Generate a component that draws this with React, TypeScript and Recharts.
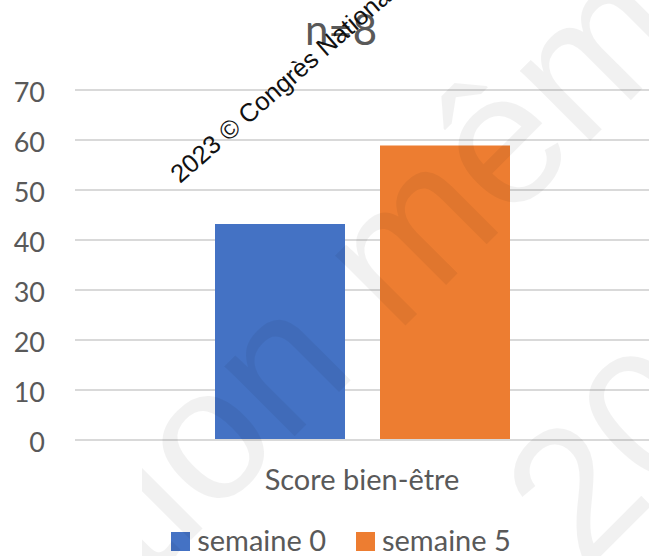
import React from 'react';
import { BarChart, Bar, XAxis, YAxis, CartesianGrid, Legend } from 'recharts';

const categories = ['Score bien-être'];
const semaine0 = [43.2];
const semaine5 = [58.9];
const yTicks = [0, 10, 20, 30, 40, 50, 60, 70];
const seriesNames = ['semaine 0', 'semaine 5'];
const seriesColors = ['#4472C4', '#ED7D31'];
const title = 'n=8';
const watermarkSmall = '2023 © Congrès National';
const watermarkBigBefore = 'Reproduc';
const watermarkBigAfter = 'tion même partielle';
const watermarkBigLine2 = '2023';

const data = categories.map((c, i) => ({ category: c, s0: semaine0[i], s5: semaine5[i] }));

const FONT = 'Lato, "Open Sans", sans-serif';
const WM_FONT = '"Liberation Sans", Arial, sans-serif';
const TEXT = '#595959';
const W = 649;
const H = 556;

const renderLegend = () => (
  <div
    style={{
      display: 'flex',
      justifyContent: 'center',
      alignItems: 'center',
      paddingLeft: 33,
      height: 33,
      fontFamily: FONT,
      fontSize: 29,
      lineHeight: '33px',
      color: TEXT,
      boxSizing: 'border-box',
      width: W,
    }}
  >
    {seriesNames.map((n, i) => (
      <div key={n} style={{ display: 'flex', alignItems: 'center', marginLeft: i ? 30 : 0 }}>
        <span
          style={{
            width: 19,
            height: 19,
            background: seriesColors[i],
            marginRight: 7,
            marginTop: 3,
            display: 'inline-block',
          }}
        />
        <span>{n}</span>
      </div>
    ))}
  </div>
);

export default function App() {
  return (
    <div
      style={{
        position: 'absolute',
        left: 0,
        top: 0,
        width: W,
        height: H,
        overflow: 'hidden',
        background: '#fff',
      }}
    >
      <BarChart
        width={W}
        height={H}
        data={data}
        margin={{ top: 90, right: 0, left: 0, bottom: 0 }}
        barCategoryGap={140}
        barGap={35}
      >
        <CartesianGrid vertical={false} stroke="#D9D9D9" strokeWidth={2} />
        <XAxis
          dataKey="category"
          height={83}
          tickLine={false}
          tickSize={0}
          tickMargin={29}
          axisLine={{ stroke: '#D9D9D9', strokeWidth: 2 }}
          tick={{ fill: TEXT, fontSize: 29, fontFamily: FONT }}
        />
        <YAxis
          width={75}
          domain={[0, 70]}
          ticks={yTicks}
          interval={0}
          tickLine={false}
          axisLine={false}
          tickSize={0}
          tickMargin={30}
          tick={{ fill: TEXT, fontSize: 27, fontFamily: FONT, dy: 2 }}
        />
        <Legend
          verticalAlign="bottom"
          content={renderLegend}
          wrapperStyle={{ left: 0, width: W, margin: 0, padding: 0 }}
        />
        <Bar dataKey="s0" name={seriesNames[0]} fill={seriesColors[0]} isAnimationActive={false} />
        <Bar dataKey="s5" name={seriesNames[1]} fill={seriesColors[1]} isAnimationActive={false} />
      </BarChart>
      <svg
        width={W}
        height={H}
        style={{ position: 'absolute', left: 0, top: 0, pointerEvents: 'none' }}
      >
        <defs>
          <clipPath id="wmClip">
            <rect x={142} y={0} width={W - 142} height={H} />
          </clipPath>
        </defs>
        <text x={341} y={45} textAnchor="middle" fontFamily={FONT} fontSize={42} fill={TEXT}>
          {title}
        </text>
        <text
          x={180}
          y={184}
          transform="rotate(-41 180 184)"
          fontFamily={WM_FONT}
          fontSize={25.5}
          fill="#111"
        >
          {watermarkSmall}
        </text>
        <g
          clipPath="url(#wmClip)"
          fill="#000"
          fillOpacity={0.055}
          fontFamily={WM_FONT}
          fontSize={188}
        >
          <text x={145} y={586} textAnchor="end" transform="rotate(-45 145 586)">
            {watermarkBigBefore}
          </text>
          <text x={145} y={586} transform="rotate(-45 145 586)">
            {watermarkBigAfter}
          </text>
          <text x={584} y={573} transform="rotate(-45 584 573)">
            {watermarkBigLine2}
          </text>
        </g>
      </svg>
    </div>
  );
}
